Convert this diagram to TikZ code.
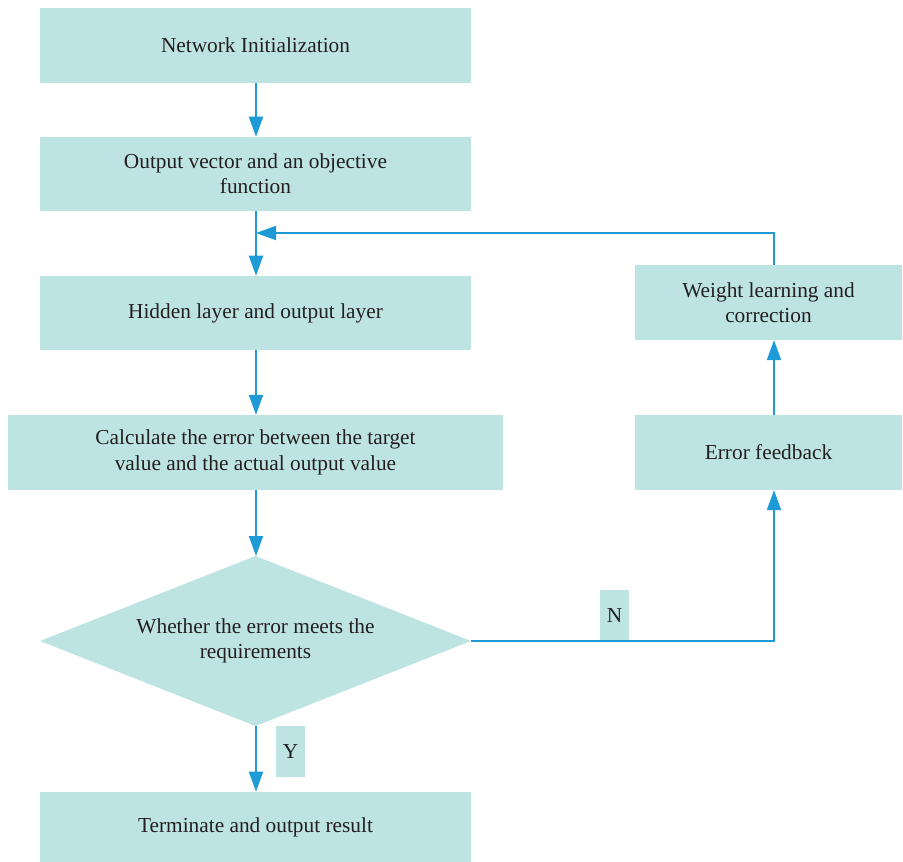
\documentclass[tikz,border=0pt]{standalone}
\usepackage{fontspec}
\setmainfont{Liberation Serif}
\usetikzlibrary{arrows.meta,positioning}
\definecolor{boxfill}{HTML}{BEE3E3}
\definecolor{arrowc}{HTML}{1E9BD7}
\definecolor{txt}{HTML}{231F20}
\tikzset{
  procbox/.style={fill=boxfill, draw=none, minimum height=56pt, inner sep=0pt, align=center, font=\fontsize{16}{19}\selectfont, text=txt},
  lbl/.style={fill=boxfill, draw=none, inner sep=0pt, minimum width=21.75pt, minimum height=38.25pt, font=\fontsize{16}{19}\selectfont, text=txt},
  flow/.style={draw=arrowc, line width=1.4pt, -{Triangle[length=15pt,width=10.5pt]}},
}
\begin{document}
\begin{tikzpicture}[x=0.75pt,y=-0.75pt]
\useasboundingbox (0,0) rectangle (903,862);
\node[procbox, minimum width=323.25pt] (init) at (255.5,45.5) {Network Initialization};
\node[procbox, minimum width=323.25pt, minimum height=55.5pt] (outv) at (255.5,174) {Output vector and an objective\\function};
\node[procbox, minimum width=323.25pt, minimum height=55.5pt] (hidden) at (255.5,313) {Hidden layer and output layer};
\node[procbox, minimum width=371.25pt] (calc) at (255.5,452.5) {Calculate the error between the target\\value and the actual output value};
\node[procbox, minimum width=323.25pt, minimum height=52.5pt] (term) at (255.5,827) {Terminate and output result};
\node[procbox, minimum width=200.25pt] (weight) at (768.5,302.5) {Weight learning and\\correction};
\node[procbox, minimum width=200.25pt] (fb) at (768.5,452.5) {Error feedback};
% diamond
\coordinate (dtop) at (256,556);
\coordinate (dbot) at (256,726);
\coordinate (dleft) at (40,641);
\coordinate (dright) at (471,641);
\fill[boxfill] (255.5,556) -- (dright) -- (255.5,726) -- (dleft) -- cycle;
\node[align=center, font=\fontsize{16}{19}\selectfont, text=txt] (dec) at (255.5,641) {Whether the error meets the\\requirements};
% labels
\node[lbl] (nlab) at (614.5,615.5) {N};
\node[lbl] (ylab) at (290.5,751.5) {Y};
% connectors
\coordinate (colx) at (256,0);
\coordinate (fbjoin) at (256,233);
\coordinate (wtop) at (774,233);
\coordinate (dcorner) at (774,641);
\draw[flow] (init.south -| colx) -- (outv.north -| colx);
\draw[flow] (outv.south -| colx) -- (hidden.north -| colx);
\draw[flow] (hidden.south -| colx) -- (calc.north -| colx);
\draw[flow] (calc.south -| colx) -- (dtop);
\draw[flow] (dbot) -- (term.north -| colx);
\draw[flow] (dright) -- (dcorner) -- (fb.south -| dcorner);
\draw[flow] (fb.north -| dcorner) -- (weight.south -| dcorner);
\draw[flow] (weight.north -| wtop) -- (wtop) -- (fbjoin);
\end{tikzpicture}
\end{document}
